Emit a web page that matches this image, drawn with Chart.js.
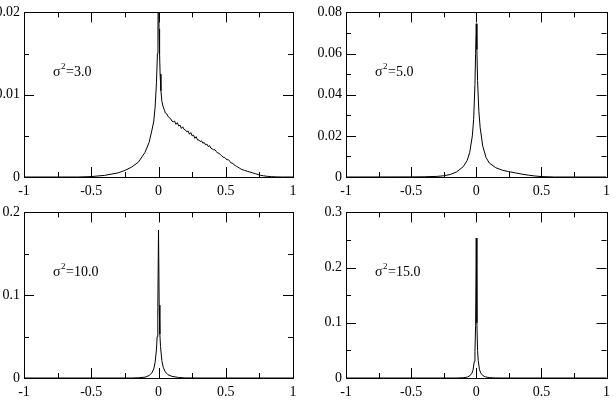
<!DOCTYPE html>
<html>
<head>
<meta charset="utf-8">
<script src="https://cdn.jsdelivr.net/npm/chart.js@4.4.1/dist/chart.umd.min.js"></script>
<style>
  body { margin: 0; background: #fff; }
  canvas { position: absolute; }
</style>
</head>
<body>
<canvas id="panel1" width="308" height="200" style="left:0;top:0"></canvas>
<canvas id="panel2" width="308" height="200" style="left:308px;top:0"></canvas>
<canvas id="panel3" width="308" height="200" style="left:0;top:200px"></canvas>
<canvas id="panel4" width="308" height="200" style="left:308px;top:200px"></canvas>
<script>
// datos
const ticksX = [-1, -0.5, 0, 0.5, 1];
const ticksY1 = [0, 0.01, 0.02];
const ticksY2 = [0, 0.02, 0.04, 0.06, 0.08];
const ticksY3 = [0, 0.1, 0.2];
const ticksY4 = [0, 0.1, 0.2, 0.3];
const sigmas = ['3.0', '5.0', '10.0', '15.0'];

// sigma^2 = 3.0
const x1 = [
  -1, -0.6, -0.5, -0.4, -0.3, -0.25, -0.2, -0.15, -0.1, -0.07,
  -0.05, -0.035, -0.025, -0.015, -0.008, -0.004, 0, 0.004, 0.008, 0.012,
  0.018, 0.025, 0.035, 0.045, 0.05, 0.06, 0.07, 0.08, 0.09, 0.1,
  0.11, 0.12, 0.13, 0.14, 0.15, 0.16, 0.17, 0.18, 0.19, 0.2,
  0.21, 0.22, 0.23, 0.24, 0.25, 0.26, 0.27, 0.28, 0.29, 0.3,
  0.31, 0.32, 0.33, 0.34, 0.35, 0.36, 0.37, 0.38, 0.39, 0.4,
  0.41, 0.42, 0.43, 0.44, 0.45, 0.46, 0.47, 0.48, 0.49, 0.5,
  0.51, 0.52, 0.53, 0.54, 0.55, 0.56, 0.57, 0.58, 0.59, 0.6,
  0.62, 0.64, 0.66, 0.68, 0.7, 0.72, 0.74, 0.76, 0.78, 0.8,
  0.84, 0.88, 0.92, 1
];
const y1 = [
  0, 0, 0.00005, 0.0002, 0.0005, 0.0008, 0.0012, 0.0018, 0.003, 0.0042,
  0.0056, 0.0068, 0.0085, 0.0115, 0.015, 0.018, 0.026, 0.018, 0.015, 0.0125,
  0.0105, 0.0092, 0.0085, 0.0081, 0.0078, 0.0077, 0.0074, 0.0072, 0.0071, 0.0068,
  0.0067, 0.0068, 0.0064, 0.0066, 0.0062, 0.0063, 0.0059, 0.0061, 0.0058, 0.0057,
  0.0055, 0.0056, 0.0052, 0.0054, 0.005, 0.0051, 0.0047, 0.0049, 0.0045, 0.0045,
  0.0043, 0.0044, 0.0041, 0.0042, 0.0039, 0.004, 0.0037, 0.0038, 0.0035, 0.0034,
  0.0033, 0.0033, 0.0031, 0.0029, 0.0029, 0.0027, 0.0026, 0.0024, 0.0024, 0.0022,
  0.0021, 0.0021, 0.0019, 0.0017, 0.0017, 0.0015, 0.0014, 0.0013, 0.0012, 0.0011,
  0.0009, 0.0008, 0.0007, 0.0006, 0.0005, 0.0004, 0.0003, 0.0002, 0.00015, 0.0001,
  0.00004, 0.00001, 0, 0
];

// sigma^2 = 5.0
const x2 = [-1, -0.5, -0.4, -0.3, -0.25, -0.2, -0.15, -0.1, -0.07, -0.05,
  -0.03, -0.02, -0.01, -0.005, 0, 0.005, 0.01, 0.02, 0.03, 0.05,
  0.075, 0.1, 0.15, 0.2, 0.25, 0.3, 0.35, 0.4, 0.45, 0.5, 0.6, 1];
const y2 = [0, 0.00005, 0.0001, 0.0003, 0.0006, 0.0012, 0.0025, 0.005, 0.008, 0.012,
  0.02, 0.028, 0.045, 0.06, 0.0745, 0.062, 0.047, 0.032, 0.024, 0.015,
  0.0095, 0.0068, 0.0045, 0.0033, 0.0026, 0.002, 0.0014, 0.0009, 0.0005, 0.0002, 0, 0];

// sigma^2 = 10.0
const x3 = [-1, -0.2, -0.15, -0.1, -0.07, -0.05, -0.035, -0.025, -0.015, -0.01,
  -0.005, 0, 0.005, 0.01, 0.015, 0.025, 0.035, 0.05, 0.07, 0.1,
  0.15, 0.2, 0.3, 1];
const y3 = [0, 0, 0.0003, 0.001, 0.003, 0.006, 0.011, 0.019, 0.035, 0.05,
  0.085, 0.1786, 0.088, 0.053, 0.038, 0.021, 0.013, 0.0075, 0.004, 0.002,
  0.0006, 0.0001, 0, 0];

// sigma^2 = 15.0
const x4 = [-1, -0.15, -0.1, -0.07, -0.05, -0.035, -0.025, -0.015, -0.01, -0.005,
  0, 0.005, 0.01, 0.015, 0.025, 0.035, 0.05, 0.07, 0.1, 0.15, 0.2, 1];
const y4 = [0, 0, 0.0005, 0.0015, 0.004, 0.008, 0.014, 0.03, 0.048, 0.095,
  0.2536, 0.1, 0.05, 0.032, 0.015, 0.009, 0.0045, 0.002, 0.0007, 0.0001, 0, 0];

const fuente = '"Liberation Serif", "Times New Roman", serif';

// marco, ticks hacia dentro (mayores y menores) y etiqueta sigma^2
const marcoGrace = {
  id: 'marcoGrace',
  afterDatasetsDraw(chart, args, opts) {
    const ctx = chart.ctx;
    const a = chart.chartArea;
    const sx = chart.scales.x, sy = chart.scales.y;
    const r = v => Math.round(v) + 0.5;
    ctx.save();
    ctx.strokeStyle = '#000';
    ctx.lineWidth = 1;
    ctx.strokeRect(r(a.left), r(a.top), Math.round(a.right) - Math.round(a.left), Math.round(a.bottom) - Math.round(a.top));
    ctx.beginPath();
    const tx = opts.ticksX, ty = opts.ticksY;
    tx.forEach((v, i) => {
      const px = r(sx.getPixelForValue(v));
      ctx.moveTo(px, a.bottom); ctx.lineTo(px, a.bottom - 10);
      ctx.moveTo(px, a.top); ctx.lineTo(px, a.top + 10);
      if (i < tx.length - 1) {
        const pm = r(sx.getPixelForValue((v + tx[i + 1]) / 2));
        ctx.moveTo(pm, a.bottom); ctx.lineTo(pm, a.bottom - 5);
        ctx.moveTo(pm, a.top); ctx.lineTo(pm, a.top + 5);
      }
    });
    ty.forEach((v, i) => {
      const py = r(sy.getPixelForValue(v));
      ctx.moveTo(a.left, py); ctx.lineTo(a.left + 10, py);
      ctx.moveTo(a.right, py); ctx.lineTo(a.right - 10, py);
      if (i < ty.length - 1) {
        const pm = r(sy.getPixelForValue((v + ty[i + 1]) / 2));
        ctx.moveTo(a.left, pm); ctx.lineTo(a.left + 5, pm);
        ctx.moveTo(a.right, pm); ctx.lineTo(a.right - 5, pm);
      }
    });
    ctx.stroke();

    // etiqueta
    let x = a.left + 29;
    const base = a.top + 64;
    ctx.fillStyle = '#000';
    ctx.textBaseline = 'alphabetic';
    ctx.font = '14px ' + fuente;
    ctx.fillText('σ', x, base);
    x += ctx.measureText('σ').width + 0.5;
    ctx.font = '9px ' + fuente;
    ctx.fillText('2', x, base - 7);
    x += ctx.measureText('2').width + 0.5;
    ctx.font = '14px ' + fuente;
    ctx.fillText('=' + opts.texto, x, base);
    ctx.restore();
  }
};

function crearPanel(id, xs, ys, ticksY, texto, arriba, izq, der) {
  const puntos = xs.map((v, i) => ({ x: v, y: ys[i] }));
  const estiloTicks = {
    color: '#000',
    font: { family: fuente, size: 14 },
    autoSkip: false,
    maxRotation: 0,
    callback: v => String(v)
  };
  return new Chart(document.getElementById(id), {
    type: 'line',
    data: {
      datasets: [{
        data: puntos,
        borderColor: '#000',
        borderWidth: 1,
        pointRadius: 0,
        tension: 0,
        fill: false
      }]
    },
    options: {
      responsive: false,
      animation: false,
      layout: { padding: { top: arriba, right: der, left: 0, bottom: 0 } },
      plugins: {
        legend: { display: false },
        tooltip: { enabled: false },
        marcoGrace: { ticksX: ticksX, ticksY: ticksY, texto: texto }
      },
      scales: {
        x: {
          type: 'linear',
          min: -1, max: 1,
          grid: { display: false, drawTicks: false },
          border: { display: false },
          afterBuildTicks: s => { s.ticks = ticksX.map(v => ({ value: v })); },
          afterFit: s => { s.height = 200 - arriba - 168; },
          ticks: Object.assign({ padding: 6 }, estiloTicks)
        },
        y: {
          type: 'linear',
          min: ticksY[0], max: ticksY[ticksY.length - 1],
          grid: { display: false, drawTicks: false },
          border: { display: false },
          afterBuildTicks: s => { s.ticks = ticksY.map(v => ({ value: v })); },
          afterFit: s => { s.width = izq; },
          ticks: Object.assign({ padding: 4 }, estiloTicks)
        }
      }
    },
    plugins: [marcoGrace]
  });
}

crearPanel('panel1', x1, y1, ticksY1, sigmas[0], 9, 24, 15);
crearPanel('panel2', x2, y2, ticksY2, sigmas[1], 9, 38, 2);
crearPanel('panel3', x3, y3, ticksY3, sigmas[2], 10, 24, 15);
crearPanel('panel4', x4, y4, ticksY4, sigmas[3], 10, 38, 2);
</script>
</body>
</html>
